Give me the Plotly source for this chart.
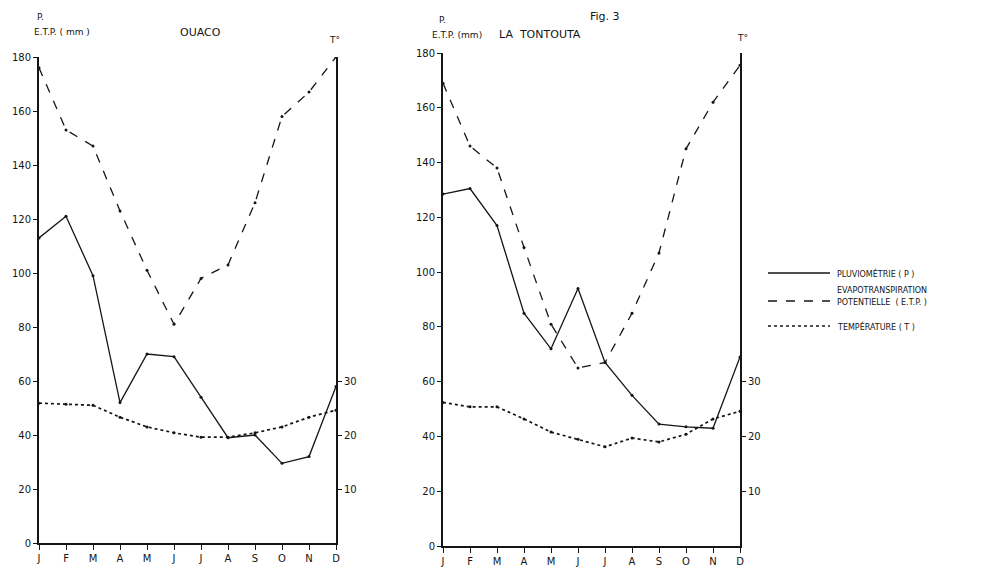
import plotly.graph_objects as go

months = ["J", "F", "M", "A", "M", "J", "J", "A", "S", "O", "N", "D"]
mi = list(range(1, 13))

# OUACO
ouaco_p = [113, 121, 99, 52, 70, 69, 54, 39, 40, 29.5, 32, 58]
ouaco_etp = [176, 153, 147, 123, 101, 81, 98, 103, 126, 158, 167, 180]
ouaco_t = [25.9, 25.7, 25.5, 23.3, 21.5, 20.4, 19.6, 19.6, 20.4, 21.5, 23.3, 24.6]

# LA TONTOUTA
tont_p = [128.5, 130.5, 117, 85, 72, 94, 67, 55, 44.5, 43.5, 43, 69]
tont_etp = [169, 146, 138, 109, 81, 65, 67, 85, 107, 145, 162, 175.5]
tont_t = [26.2, 25.4, 25.4, 23.2, 20.8, 19.5, 18.1, 19.7, 19.0, 20.4, 23.2, 24.6]

mm_ticks = [0, 20, 40, 60, 80, 100, 120, 140, 160, 180]
t_ticks = [10, 20, 30]

OFF = 8  # page body margin
W, H = 980, 569 - OFF
INK = "#151515"
FONT = "DejaVu Sans"


def px(x):
    return (x - OFF) / W


def py(y):
    return 1 - (y - OFF) / H


fig = go.Figure()

line_w = 1.3
mk = dict(size=3, color=INK)

# Left panel traces
fig.add_trace(go.Scatter(x=mi, y=ouaco_p, mode="lines+markers", line=dict(color=INK, width=line_w),
                         marker=mk, xaxis="x", yaxis="y", showlegend=False))
fig.add_trace(go.Scatter(x=mi, y=ouaco_etp, mode="lines+markers", line=dict(color=INK, width=line_w, dash="dash"),
                         marker=mk, xaxis="x", yaxis="y", showlegend=False))
fig.add_trace(go.Scatter(x=mi, y=ouaco_t, mode="lines+markers", line=dict(color=INK, width=1.7, dash="dot"),
                         marker=mk, xaxis="x", yaxis="y2", showlegend=False))

# Right panel traces
fig.add_trace(go.Scatter(x=mi, y=tont_p, mode="lines+markers", line=dict(color=INK, width=line_w),
                         marker=mk, xaxis="x2", yaxis="y3", showlegend=False))
fig.add_trace(go.Scatter(x=mi, y=tont_etp, mode="lines+markers", line=dict(color=INK, width=line_w, dash="dash"),
                         marker=mk, xaxis="x2", yaxis="y3", showlegend=False))
fig.add_trace(go.Scatter(x=mi, y=tont_t, mode="lines+markers", line=dict(color=INK, width=1.7, dash="dot"),
                         marker=mk, xaxis="x2", yaxis="y4", showlegend=False))

tickfont = dict(family=FONT, size=10, color=INK)

xcommon = dict(range=[1, 12], tickvals=mi, ticktext=months, ticks="outside", ticklen=5,
               tickcolor=INK, showline=True, linecolor=INK, linewidth=2, showgrid=False,
               zeroline=False, automargin=False, tickfont=dict(family=FONT, size=10, color=INK))
ycommon = dict(range=[0, 180], tickvals=mm_ticks, ticks="outside", ticklen=4, tickcolor=INK,
               showline=True, linecolor=INK, linewidth=2, showgrid=False, zeroline=False,
               automargin=False, tickfont=tickfont)
tcommon = dict(range=[0, 90], tickvals=t_ticks, ticks="outside", ticklen=4, tickcolor=INK,
               showline=True, linecolor=INK, linewidth=2, showgrid=False, zeroline=False,
               automargin=False, tickfont=tickfont, side="right")

fig.update_layout(
    width=W, height=H,
    margin=dict(l=0, r=0, t=0, b=0, autoexpand=False),
    paper_bgcolor="white", plot_bgcolor="white",
    xaxis=dict(domain=[px(39), px(336)], anchor="y", **xcommon),
    yaxis=dict(domain=[py(543), py(57)], anchor="x", **ycommon),
    yaxis2=dict(overlaying="y", anchor="x", **tcommon),
    xaxis2=dict(domain=[px(443), px(740)], anchor="y3", **xcommon),
    yaxis3=dict(domain=[py(546), py(53)], anchor="x2", **ycommon),
    yaxis4=dict(overlaying="y3", anchor="x2", **tcommon),
)

ann_font = dict(family=FONT, size=9, color=INK)
annots = [
    dict(text="P.", x=px(40), y=py(17)),
    dict(text="E.T.P. ( mm )", x=px(62), y=py(32)),
    dict(text="OUACO", x=px(200), y=py(33), font=dict(family=FONT, size=11, color=INK)),
    dict(text="T°", x=px(334), y=py(40)),
    dict(text="P.", x=px(442), y=py(20)),
    dict(text="E.T.P. (mm)", x=px(457), y=py(35)),
    dict(text="LA  TONTOUTA", x=px(540), y=py(34), font=dict(family=FONT, size=11, color=INK)),
    dict(text="T°", x=px(742), y=py(38)),
]
for a in annots:
    fig.add_annotation(xref="paper", yref="paper", x=a["x"], y=a["y"], text=a["text"],
                       showarrow=False, xanchor="center", yanchor="middle",
                       font=a.get("font", ann_font))

fig.add_annotation(xref="paper", yref="paper", x=px(605), y=1, text="Fig. 3", showarrow=False,
                   xanchor="center", yanchor="top", font=dict(family=FONT, size=11, color=INK))

# Legend (drawn manually)
leg_font = dict(family=FONT, size=8, color=INK)
legend_items = [
    ("solid", 273, ["PLUVIOMÉTRIE ( P )"], [273]),
    ("dash", 301, ["EVAPOTRANSPIRATION", "POTENTIELLE  ( E.T.P. )"], [290, 302]),
    ("dot", 326, ["TEMPÉRATURE ( T )"], [326]),
]
for dash, ly, texts, tys in legend_items:
    fig.add_shape(type="line", xref="paper", yref="paper", x0=px(768), x1=px(830), y0=py(ly), y1=py(ly),
                  line=dict(color=INK, width=1.3 if dash != "dot" else 1.7, dash=dash))
    for t, ty in zip(texts, tys):
        fig.add_annotation(xref="paper", yref="paper", x=px(835), y=py(ty), text=t, showarrow=False,
                           xanchor="left", yanchor="middle", font=leg_font)

fig.write_html("out.html")
